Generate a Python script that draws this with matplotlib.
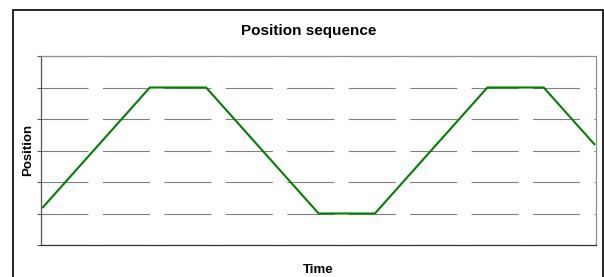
import matplotlib.pyplot as plt
from matplotlib.patches import Rectangle

time = [0, 19, 29, 49, 59, 79, 89, 98]
position = [1.2, 5, 5, 1, 1, 5, 5, 3.2]
y_ticks = [0, 1, 2, 3, 4, 5, 6]

plt.rcParams['font.family'] = ['Liberation Sans', 'DejaVu Sans']

fig = plt.figure(figsize=(6.04, 2.77), dpi=100)
fig.patches.append(Rectangle((13 / 604, -0.05), 590 / 604, 1.05 - 10 / 277,
                             transform=fig.transFigure, fill=False,
                             edgecolor='black', linewidth=1.2))

ax = fig.add_axes([41 / 604, 32 / 277, 555 / 604, 189 / 277])
ax.plot(time, position, color='#008000', linewidth=1.5)

ax.set_xlim(-0.35, 98.3)
ax.set_ylim(0, 6)
ax.set_yticks(y_ticks)
ax.set_yticklabels([])
ax.set_xticks([])
ax.tick_params(axis='y', length=3, width=0.8, color='#555555', direction='out')
ax.yaxis.grid(True, color='#808080', linewidth=0.8, linestyle=(0, (42.3, 13.0)))

ax.spines['left'].set_color('#555555')
ax.spines['bottom'].set_color('#333333')
ax.spines['top'].set_color('#909090')
ax.spines['right'].set_color('#909090')
for s in ax.spines.values():
    s.set_linewidth(0.9)

fig.text(309 / 604, 1 - 31 / 277, 'Position sequence', ha='center', va='center',
         fontsize=11, fontweight='bold')
fig.text(318 / 604, 1 - 270 / 277, 'Time', ha='center', va='center',
         fontsize=9.5, fontweight='bold')
fig.text(28 / 604, 1 - 150 / 277, 'Position', ha='center', va='center',
         rotation=90, fontsize=9.5, fontweight='bold')

fig.savefig('out.png', dpi=100)
